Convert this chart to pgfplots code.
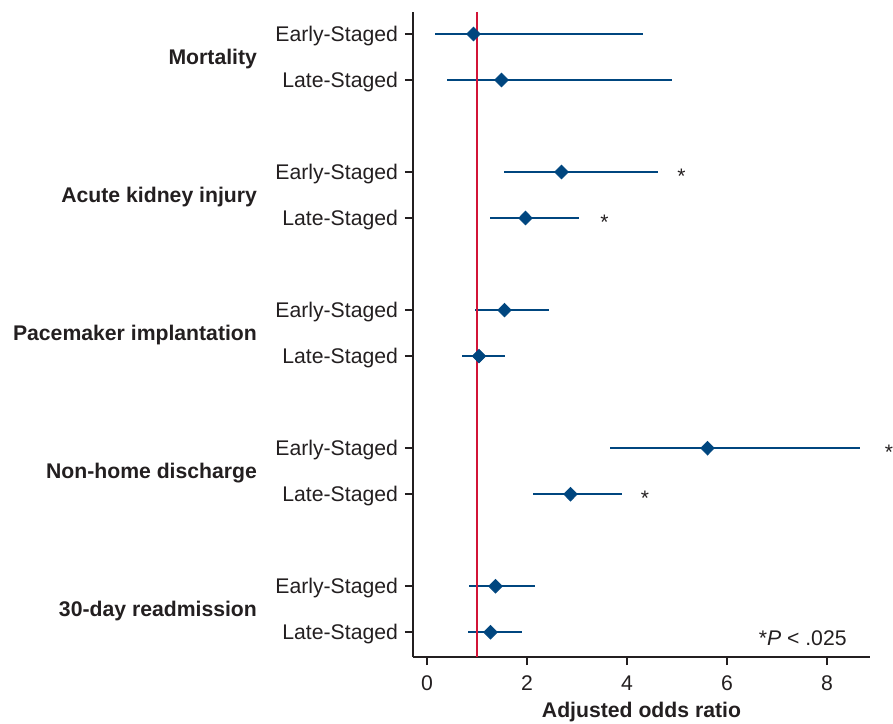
\documentclass[border=0pt]{standalone}
\usepackage{pgfplots}
\pgfplotsset{compat=1.18}
\usepackage{pgfplotstable}
\usepackage{fontspec}
\setmainfont{Liberation Sans}
\definecolor{ciblue}{RGB}{0,70,127}
\definecolor{refred}{RGB}{210,20,55}
\definecolor{axgray}{RGB}{35,31,32}
\tikzset{
  glab/.style={anchor=east, font=\fontsize{10.6}{12.6}\selectfont\bfseries, text=axgray, xshift=-74.5pt, yshift=-1pt},
  ast/.style={font=\fontsize{10.5}{12.6}\selectfont, text=axgray, yshift=-2pt, inner sep=0pt},
}

\pgfplotstableread{
y x lo hi
0 0.93 0.16 4.31
-1 1.49 0.41 4.89
-3 2.69 1.54 4.61
-4 1.97 1.26 3.05
-6 1.55 0.97 2.45
-7 1.04 0.71 1.57
-9 5.61 3.65 8.66
-10 2.87 2.13 3.89
-12 1.37 0.85 2.16
-13 1.27 0.83 1.91
}\ordata

\begin{document}
\begin{tikzpicture}
\useasboundingbox (-206.5pt,-33pt) rectangle (240pt,328.5pt);
\begin{axis}[
  at={(0,0)}, anchor=south west,
  scale only axis, width=228.5pt, height=322.5pt,
  xmin=-0.28, xmax=8.86, ymin=-13.54, ymax=0.48,
  axis x line*=bottom, axis y line*=left,
  axis line style={-, line width=1.4pt, axgray},
  xtick={0,2,4,6,8},
  ytick={0,-1,-3,-4,-6,-7,-9,-10,-12,-13},
  yticklabels={Early-Staged,Late-Staged,Early-Staged,Late-Staged,Early-Staged,Late-Staged,Early-Staged,Late-Staged,Early-Staged,Late-Staged},
  tick align=outside, major tick length=4pt,
  tick style={line width=0.7pt, axgray},
  /pgf/number format/assume math mode=true,
  ticklabel style={font=\fontsize{10.6}{12.6}\selectfont, text=axgray},
  yticklabel style={xshift=0pt, yshift=-1pt},
  xticklabel style={yshift=-2pt},
  xlabel={\bfseries Adjusted odds ratio},
  xlabel style={font=\fontsize{10.6}{12.6}\selectfont, text=axgray, yshift=1.5pt},
  clip=false,
]
\addplot[ciblue, only marks, mark=diamond*, mark size=3.4pt,
  mark options={xscale=1.33, fill=ciblue, draw=ciblue, line width=0.4pt},
  error bars/.cd, x dir=both, x explicit, error mark=none,
  error bar style={line width=1pt, ciblue}]
  table[x=x, y=y, x error plus expr=\thisrow{hi}-\thisrow{x}, x error minus expr=\thisrow{x}-\thisrow{lo}] {\ordata};
\addplot[refred, line width=1.3pt, mark=none] coordinates {(1,0.48) (1,-13.54)};

\node[glab] at (axis cs:-0.28,-0.5) {Mortality};
\node[glab] at (axis cs:-0.28,-3.5) {Acute kidney injury};
\node[glab] at (axis cs:-0.28,-6.5) {Pacemaker implantation};
\node[glab] at (axis cs:-0.28,-9.5) {Non-home discharge};
\node[glab] at (axis cs:-0.28,-12.5) {30-day readmission};
\node[ast] at (axis cs:5.09,-3) {*};
\node[ast] at (axis cs:3.55,-4) {*};
\node[ast] at (axis cs:9.24,-9) {*};
\node[ast] at (axis cs:4.36,-10) {*};
\node[anchor=east, font=\fontsize{10.6}{12.6}\selectfont, text=axgray, xshift=-11.5pt, yshift=9.5pt, inner sep=0pt] at (rel axis cs:1,0) {*\textit{P} {<} .025};
\end{axis}
\end{tikzpicture}
\end{document}
